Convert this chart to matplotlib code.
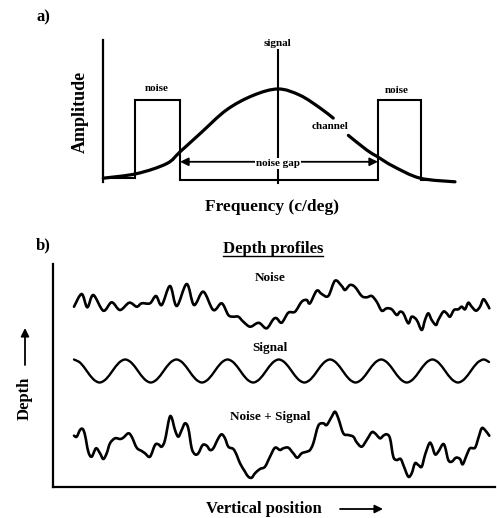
import numpy as np
import matplotlib
matplotlib.use("Agg")
import matplotlib.pyplot as plt
from matplotlib.path import Path
from matplotlib.patches import PathPatch
from matplotlib.lines import Line2D
from matplotlib.transforms import IdentityTransform

plt.rcParams['font.family'] = ['Liberation Serif', 'DejaVu Serif']
plt.rcParams['font.weight'] = 'bold'

# ---- panel a data (frequency in arbitrary units, amplitude normalised) ----
signal_freq = 4.97
gap_lo, gap_hi = 2.19, 7.81
noise_freq = [0.0, 0.91, 0.91, 2.19, 2.19, 7.81, 7.81, 9.03, 9.03, 9.3]
noise_amp = [0.02, 0.02, 0.88, 0.88, 0.0, 0.0, 0.88, 0.88, 0.0, 0.0]
channel_freq_left = [0.01, 0.96, 1.81, 2.19, 2.76, 3.51, 4.27, 4.98, 5.60, 6.17, 6.54]
channel_amp_left = [0.02, 0.07, 0.18, 0.31, 0.51, 0.77, 0.93, 1.0, 0.93, 0.79, 0.68]
channel_freq_right = [6.97, 7.49, 7.78, 8.25, 9.01, 10.0]
channel_amp_right = [0.49, 0.33, 0.26, 0.15, 0.02, -0.02]

# ---- panel b data (depth profiles) ----
noise_pos = [74, 81.7, 87.3, 93.3, 103.3, 111.7, 120, 129.3, 136.7, 141.7, 150, 156,
             161.7, 170, 176.7, 186.7, 194, 203.3, 213.3, 221.7, 228.3, 233.3, 238.3,
             243.3, 250, 256.7, 260, 266.7, 273.3, 276.7, 281.7, 288.3, 295, 301.7,
             306.7, 310, 316.7, 321.7, 328.3, 335, 341.7, 345, 350, 355, 361.7, 366.7,
             371.7, 376.7, 381.7, 386.7, 391.7, 396.7, 400, 403.3, 408.3, 411.7, 416.7,
             421.7, 425, 428.3, 431.7, 436, 438.3, 443.3, 446.7, 450, 454, 458.3, 461.7,
             465, 468.3, 471.7, 476, 480, 483.3, 486.7, 489.3]
noise_depth = [0.3, 13, -0.3, 12, -3.7, 4.7, -3, 4.3, 0.3, 3.7, 3.7, 11,
               2, 21, 1, 23, 2, 15.3, -3, 3.7, -8, -9.7, -9.7,
               -14.7, -19.7, -16.3, -16.3, -21.3, -12.3, -11.3, -15.7, -5.7, -4.7, 5.3,
               7, 3.7, 16.3, 13, 11, 26.3, 21, 17, 22, 20, 11, 9.7,
               11, 5.3, -3.7, -1.3, -2.3, -8, -4.7, -6.3, -16.3, -9.7, -13,
               -23, -13, -6.3, -13, -18, -13, -4.7, -6.3, -9.7, -3, -2.3, 0.3,
               -2.3, 4.3, 0.3, -3.7, 0.3, 7.7, 3.7, -1.3]

signal_pos = [74.0, 80.4, 86.8, 93.2, 99.6, 106.0, 112.4, 118.8, 125.2, 131.6, 138.0,
              144.4, 150.8, 157.2, 163.6, 170.0, 176.4, 182.8, 189.2, 195.6, 202.0,
              208.4, 214.8, 221.2, 227.6, 234.0, 240.4, 246.8, 253.2, 259.6, 266.0,
              272.4, 278.8, 285.2, 291.6, 298.0, 304.4, 310.8, 317.2, 323.6, 330.0,
              336.4, 342.8, 349.2, 355.6, 362.0, 368.4, 374.8, 381.2, 387.6, 394.0,
              400.4, 406.8, 413.2, 419.6, 426.0, 432.4, 438.8, 445.2, 451.6, 458.0,
              464.4, 470.8, 477.2, 483.6, 489.0]
signal_depth = [11.5, 8.1, 0, -8.1, -11.5, -8.1, 0, 8.1,
                11.5, 8.1, 0, -8.1, -11.5, -8.1, 0, 8.1,
                11.5, 8.1, 0, -8.1, -11.5, -8.1, 0, 8.1,
                11.5, 8.1, 0, -8.1, -11.5, -8.1, 0, 8.1,
                11.5, 8.1, 0, -8.1, -11.5, -8.1, 0, 8.1,
                11.5, 8.1, 0, -8.1, -11.5, -8.1, 0, 8.1,
                11.5, 8.1, 0, -8.1, -11.5, -8.1, 0, 8.1,
                11.5, 8.1, 0, -8.1, -11.5, -8.1, 0, 8.1,
                11.5, 9.0]

mix_pos = [74, 76.7, 80, 82.7, 85, 88.3, 91.7, 96, 100, 103.3, 106.7, 110, 115, 120,
           123.3, 128.3, 131.7, 136.7, 141.7, 145, 150, 155, 158.3, 161.7, 165, 169.3,
           171.7, 175, 178.3, 181.7, 185, 188.3, 191.7, 195, 198.3, 202.7, 206.7, 210,
           213.3, 218.3, 221.7, 225, 228.3, 233.3, 236.7, 240, 245, 248.3, 251.7, 255,
           260, 265, 270, 275, 280, 283.3, 288.3, 293.3, 297.3, 301.7, 306.7, 310,
           313.3, 318.3, 323.3, 326.7, 331.7, 335, 338.3, 343.3, 348.3, 353.3, 356.7,
           361.7, 366.7, 371.7, 375, 380, 383.3, 386.7, 390, 393.3, 396.7, 400.7, 404,
           408.3, 411.7, 415, 418.3, 421.7, 425, 429.3, 431.7, 435, 438.3, 442.7, 445,
           448.3, 451.7, 456, 460, 462.7, 466.7, 470, 475, 478.3, 481.7, 485, 489.3]
mix_depth = [9.3, 8.3, 15, 16, 10, -6.7, -11.7, -3.3, -8.3, -14, -8.3, 1.7, 6.7, 6,
             7.3, 11.7, 8.3, -2.7, -6, -8.3, -11.7, 0, 0.7, -1.7, 5, 26.7,
             27.3, 15, 8.3, 15, 21.7, 16.7, -3.3, -9.3, -8.3, 0, -0.7, -5,
             -3.3, 6.7, 10.7, 6.7, -1.7, -4, -10, -18.3, -26.7, -31.7, -32.7, -28.3,
             -24, -21.7, -11.7, -2.7, -5, -3.3, -2.7, -8.3, -12.7, -8.3, -6.7, -5,
             1.7, 19.3, 21.7, 20, 28.3, 33.3, 26.7, 11.7, 10, 8.3, 2.7,
             -1.7, 5, 12.7, 11.7, 6.7, 9.3, 10.7, 6.7, -11.7, -15, -14, -21.7,
             -31.7, -28.3, -18.3, -20, -21.7, -10, 1.7, 0, -9.3, -6.7, 0.7, -1.7,
             -15, -16.7, -12.7, -14, -19.3, -10, -3.3, -2.7, 6.7, 16.7, 15, 9.3]


def smooth_path(x, y, offset=0.0):
    # catmull-rom through the traced points, drawn as cubic beziers
    pts = np.column_stack([x, np.asarray(y, dtype=float) + offset])
    p = np.vstack([pts[0], pts, pts[-1]])
    verts = [pts[0]]
    codes = [Path.MOVETO]
    for i in range(1, len(p) - 2):
        p0, p1, p2, p3 = p[i - 1], p[i], p[i + 1], p[i + 2]
        verts += [p1 + (p2 - p0) / 6, p2 - (p3 - p1) / 6, p2]
        codes += [Path.CURVE4] * 3
    return Path(verts, codes)


def add_curve(ax, x, y, lw, offset=0.0):
    ax.add_patch(PathPatch(smooth_path(x, y, offset), fill=False, lw=lw,
                           edgecolor='black', capstyle='round', joinstyle='round',
                           clip_on=False))


W, H = 497, 518
fig = plt.figure(figsize=(W / 100, H / 100), dpi=100)

# ---------------- panel a ----------------
ax1 = fig.add_axes([103 / W, 1 - 183 / H, 352 / W, 143 / H])
ax1.set_xlim(0, 10)
ax1.set_ylim(-0.033, 1.538)
for s in ['top', 'right', 'bottom']:
    ax1.spines[s].set_visible(False)
ax1.spines['left'].set_linewidth(1.6)
ax1.spines['left'].set_bounds(-0.02, 1.538)
ax1.set_xticks([])
ax1.set_yticks([])
ax1.patch.set_alpha(0)

ax1.plot(noise_freq, noise_amp, color='black', lw=1.5, solid_joinstyle='miter', clip_on=False)
ax1.plot([signal_freq, signal_freq], [-0.035, 1.43], color='black', lw=1.5, clip_on=False)
add_curve(ax1, channel_freq_left, channel_amp_left, 2.3)
add_curve(ax1, channel_freq_right, channel_amp_right, 2.3)

ax1.annotate('', xy=(gap_lo, 0.2), xytext=(gap_hi, 0.2),
             arrowprops=dict(arrowstyle='<|-|>', lw=1.3, color='black',
                             mutation_scale=12, shrinkA=0, shrinkB=0))
ax1.text(signal_freq, 0.18, 'noise gap', ha='center', va='center', fontsize=8,
         bbox=dict(facecolor='white', edgecolor='none', pad=0.5))
ax1.text(signal_freq, 1.505, 'signal', ha='center', va='center', fontsize=8)
ax1.text(1.53, 1.0, 'noise', ha='center', va='center', fontsize=8)
ax1.text(8.35, 0.98, 'noise', ha='center', va='center', fontsize=8)
ax1.text(6.45, 0.59, 'channel', ha='center', va='center', fontsize=8)
ax1.text(-0.65, 0.75, 'Amplitude', rotation=90, ha='center', va='center', fontsize=13)
ax1.text(4.8, -0.30, 'Frequency (c/deg)', ha='center', va='center', fontsize=12.5)

# ---------------- panel b ----------------
ax2 = fig.add_axes([53 / W, 1 - 487 / H, 442 / W, 223 / H])
ax2.set_xlim(53, 495)
ax2.set_ylim(0, 223)
for s in ['top', 'right']:
    ax2.spines[s].set_visible(False)
for s in ['left', 'bottom']:
    ax2.spines[s].set_linewidth(1.6)
ax2.set_xticks([])
ax2.set_yticks([])
ax2.patch.set_alpha(0)

add_curve(ax2, noise_pos, noise_depth, 1.9, offset=180)
add_curve(ax2, signal_pos, signal_depth, 1.7, offset=116)
add_curve(ax2, mix_pos, mix_depth, 1.9, offset=42)

ax2.text(270, 209, 'Noise', ha='center', va='center', fontsize=9.5)
ax2.text(270, 139, 'Signal', ha='center', va='center', fontsize=9.5)
ax2.text(270, 70, 'Noise + Signal', ha='center', va='center', fontsize=9.5)
title = ax2.text(273, 238, 'Depth profiles', ha='center', va='center', fontsize=12,
                 clip_on=False)

# panel letters and axis names
fig.text(43 / W, 1 - 17 / H, 'a)', ha='center', va='center', fontsize=12)
fig.text(43 / W, 1 - 245 / H, 'b)', ha='center', va='center', fontsize=12)
fig.text(264 / W, 1 - 509 / H, 'Vertical position', ha='center', va='center', fontsize=12)
fig.text(25 / W, 1 - 398 / H, 'Depth', ha='center', va='center', rotation=90, fontsize=12)
fig.add_artist(plt.Annotation('', xy=(383, H - 509), xytext=(340, H - 509),
                              xycoords='figure pixels', textcoords='figure pixels',
                              arrowprops=dict(arrowstyle='-|>', lw=1.3, color='black',
                                              mutation_scale=12, shrinkA=0, shrinkB=0)))
fig.add_artist(plt.Annotation('', xy=(25, H - 328), xytext=(25, H - 365),
                              xycoords='figure pixels', textcoords='figure pixels',
                              arrowprops=dict(arrowstyle='-|>', lw=1.3, color='black',
                                              mutation_scale=12, shrinkA=0, shrinkB=0)))

# underline the sub-title
fig.canvas.draw()
bb = title.get_window_extent(fig.canvas.get_renderer())
fig.add_artist(Line2D([bb.x0, bb.x1], [bb.y0 + 1, bb.y0 + 1], color='black', lw=1.0,
                      transform=IdentityTransform()))

fig.savefig('out.png', dpi=100)
